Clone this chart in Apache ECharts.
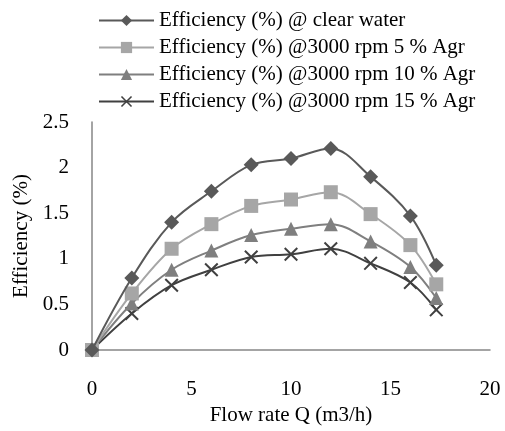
<!DOCTYPE html>
<html>
<head>
<meta charset="utf-8">
<script src="https://cdn.jsdelivr.net/npm/echarts@6/dist/echarts.min.js"></script>
<style>html,body{margin:0;padding:0;background:#fff;}#c{width:505px;height:431px;}</style>
</head>
<body>
<div id="c"></div>
<script>
var flowRate = [0, 2, 4, 6, 8, 10, 12, 14, 16, 17.3];
var effClear = [0, 0.79, 1.40, 1.74, 2.03, 2.10, 2.21, 1.90, 1.47, 0.93];
var eff5 = [0, 0.62, 1.11, 1.38, 1.58, 1.65, 1.73, 1.49, 1.15, 0.72];
var eff10 = [0, 0.51, 0.88, 1.09, 1.26, 1.33, 1.38, 1.19, 0.91, 0.57];
var eff15 = [0, 0.40, 0.71, 0.88, 1.02, 1.05, 1.11, 0.95, 0.74, 0.44];
var seriesNames = [
  'Efficiency (%) @ clear water',
  'Efficiency (%) @3000 rpm 5 % Agr',
  'Efficiency (%) @3000 rpm 10 % Agr',
  'Efficiency (%) @3000 rpm 15 % Agr'
];
var xTicks = [0, 5, 10, 15, 20];
var yTicks = [0, 0.5, 1, 1.5, 2, 2.5];

function pairs(ys) { return flowRate.map(function (x, i) { return [x, ys[i]]; }); }
var crossPath = 'path://M0,1 L1,0 L5,4 L9,0 L10,1 L6,5 L10,9 L9,10 L5,6 L1,10 L0,9 L4,5 Z';
var colors = ['#595959', '#a6a6a6', '#7f7f7f', '#404040'];
var symbols = ['diamond', 'rect', 'triangle', crossPath];
var sizes = [15, 14, 14, 14];
var datas = [effClear, eff5, eff10, eff15];
var font = 'Liberation Serif';
var fs = 21;

var chart = echarts.init(document.getElementById('c'));
chart.setOption({
  animation: false,
  textStyle: { fontFamily: font },
  legend: {
    orient: 'vertical',
    left: 93, top: 5,
    itemWidth: 55, itemHeight: 14, itemGap: 6,
    textStyle: { fontFamily: font, fontSize: fs, color: '#000' },
    data: seriesNames
  },
  grid: { left: 92, right: 15, top: 122, bottom: 81 },
  xAxis: {
    type: 'value', min: xTicks[0], max: xTicks[xTicks.length - 1], interval: 5,
    name: 'Flow rate Q (m3/h)', nameLocation: 'middle', nameGap: 52,
    nameTextStyle: { fontFamily: font, fontSize: fs, color: '#000' },
    axisLine: { lineStyle: { color: '#868686', width: 1.5 } },
    axisTick: { show: false },
    splitLine: { show: false },
    axisLabel: { margin: 29, fontFamily: font, fontSize: fs, color: '#000' }
  },
  yAxis: {
    type: 'value', min: yTicks[0], max: yTicks[yTicks.length - 1], interval: 0.5,
    name: 'Efficiency (%)', nameLocation: 'middle', nameGap: 53, nameRotate: 90,
    nameTextStyle: { fontFamily: font, fontSize: fs, color: '#000' },
    axisLine: { show: true, lineStyle: { color: '#868686', width: 1.5 } },
    axisTick: { show: false },
    splitLine: { show: false },
    axisLabel: { margin: 23, fontFamily: font, fontSize: fs, color: '#000' }
  },
  series: datas.map(function (d, i) {
    return {
      name: seriesNames[i], type: 'line', data: pairs(d),
      smooth: 0.35,
      symbol: symbols[i], symbolSize: sizes[i],
      lineStyle: { color: colors[i], width: 2 },
      itemStyle: { color: colors[i] },
      z: 10 - i
    };
  })
});
</script>
</body>
</html>
